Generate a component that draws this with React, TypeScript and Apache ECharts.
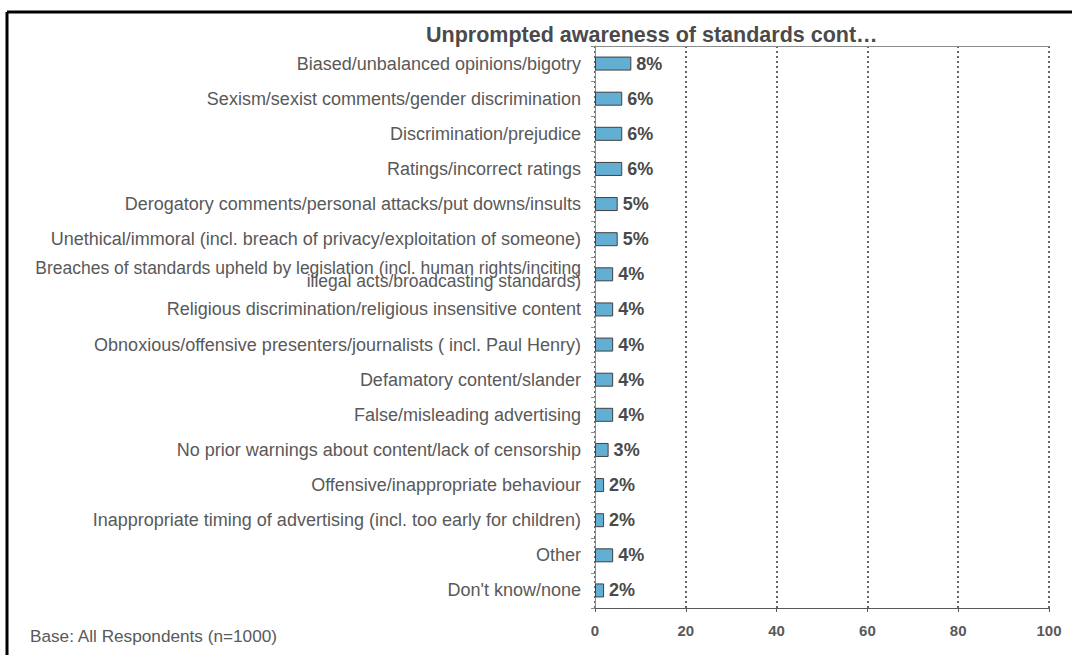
import React, { useEffect, useRef } from "react";
import * as echarts from "echarts";

const categories = [
  "Biased/unbalanced opinions/bigotry",
  "Sexism/sexist comments/gender discrimination",
  "Discrimination/prejudice",
  "Ratings/incorrect ratings",
  "Derogatory comments/personal attacks/put downs/insults",
  "Unethical/immoral (incl. breach of privacy/exploitation of someone)",
  "Breaches of standards upheld by legislation (incl. human rights/inciting\nillegal acts/broadcasting standards)",
  "Religious discrimination/religious insensitive content",
  "Obnoxious/offensive presenters/journalists ( incl. Paul Henry)",
  "Defamatory content/slander",
  "False/misleading advertising",
  "No prior warnings about content/lack of censorship",
  "Offensive/inappropriate behaviour",
  "Inappropriate timing of advertising (incl. too early for children)",
  "Other",
  "Don't know/none",
];
const values = [8, 6, 6, 6, 5, 5, 4, 4, 4, 4, 4, 3, 2, 2, 4, 2];
const titleText = "Unprompted awareness of standards cont\u2026";
const footnote = "Base: All Respondents (n=1000)";

const FONT = "'Liberation Sans', Arial, sans-serif";

export default function App() {
  const ref = useRef<HTMLDivElement>(null);
  useEffect(() => {
    if (!ref.current) return;
    const chart = echarts.init(ref.current, undefined, { renderer: "svg" });
    chart.setOption({
      animation: false,
      backgroundColor: "#ffffff",
      textStyle: { fontFamily: FONT },
      title: {
        text: titleText,
        left: 421,
        top: 19,
        textStyle: { fontFamily: FONT, fontSize: 21.5, fontWeight: "bold", color: "#4a4a4a" },
      },
      graphic: [
        { type: "line", shape: { x1: 7, y1: 12, x2: 1072, y2: 12 }, style: { stroke: "#000", lineWidth: 3 } },
        { type: "line", shape: { x1: 7, y1: 12, x2: 7, y2: 655 }, style: { stroke: "#000", lineWidth: 3 } },
        {
          type: "text",
          left: 30,
          top: 627,
          style: { text: footnote, font: `17.2px ${FONT}`, fill: "#595959" },
        },
      ],
      grid: { left: 595, right: 23, top: 46, bottom: 47, containLabel: false },
      xAxis: [
        {
          type: "value",
          min: 0,
          max: 100,
          interval: 20,
          position: "bottom",
          axisLine: { show: true, lineStyle: { color: "#595959", width: 1 } },
          axisTick: { show: true, length: 4, lineStyle: { color: "#595959" } },
          axisLabel: { fontFamily: FONT, fontSize: 15, fontWeight: "bold", color: "#595959", margin: 15 },
          splitLine: { show: true, lineStyle: { color: "#333333", type: [2, 3], width: 1.5 } },
        },
        {
          type: "value",
          min: 0,
          max: 100,
          position: "top",
          axisLine: { show: true, lineStyle: { color: "#8c8c8c", width: 1 } },
          axisTick: { show: false },
          axisLabel: { show: false },
          splitLine: { show: false },
        },
      ],
      yAxis: {
        type: "category",
        data: categories,
        inverse: true,
        axisLine: { show: true, lineStyle: { color: "#8c8c8c" } },
        axisTick: { show: true, length: 4, lineStyle: { color: "#8c8c8c" } },
        axisLabel: {
          fontFamily: FONT,
          fontSize: 18,
          color: "#595959",
          margin: 14,
          formatter: (v: string) =>
            v.indexOf("\n") >= 0
              ? v.split("\n").map((l) => `{s|${l}}`).join("\n")
              : v,
          rich: {
            s: { fontFamily: FONT, fontSize: 17.5, color: "#595959", lineHeight: 13 },
          },
        },
      },
      series: [
        {
          type: "bar",
          data: values,
          barWidth: 14,
          itemStyle: { color: "#63afd3", borderColor: "#404040", borderWidth: 1 },
          label: {
            show: true,
            position: "right",
            distance: 5,
            formatter: "{c}%",
            fontFamily: FONT,
            fontSize: 18,
            fontWeight: "bold",
            color: "#4a4a4a",
          },
        },
      ],
    });
    return () => chart.dispose();
  }, []);
  return (
    <div
      ref={ref}
      style={{ position: "fixed", left: 0, top: 0, width: 1072, height: 655 }}
    />
  );
}
